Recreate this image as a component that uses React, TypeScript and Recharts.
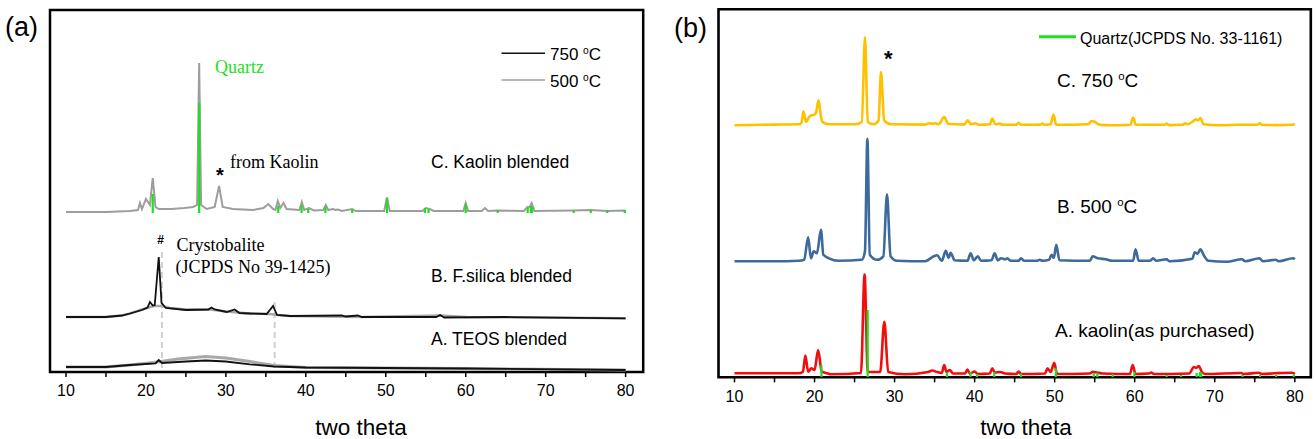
import React from 'react';
import { ComposedChart, Line, XAxis, YAxis, ReferenceArea } from 'recharts';

const SANS = '"Liberation Sans", Arial, Helvetica, sans-serif';
const SERIF = '"Liberation Serif", "Times New Roman", serif';
const GREEN = '#1de01d';

// ---------- shared axis ----------
const thetaTicks = [10, 15, 20, 25, 30, 35, 40, 45, 50, 55, 60, 65, 70, 75, 80];

// ---------- panel (a): [2theta, relative intensity] ----------
const aOffsetC = 160;
const aOffsetB = 55;
const aOffsetA = 5;

const aKaolinBlended: [number, number][] = [
  [10, 0], [15, 0], [18, 1], [19.0, 2], [19.25, 9], [19.5, 3], [20.0, 13], [20.5, 7], [20.85, 34], [21.2, 5],
  [21.6, 3], [23.2, 3], [24.8, 4], [25.9, 5], [26.4, 7], [26.66, 149], [26.9, 7], [27.6, 3], [28.6, 5],
  [29.15, 26], [29.6, 5], [30.9, 3], [33.4, 2], [34.7, 4], [35.3, 8], [35.9, 3], [36.2, 2], [36.5, 11],
  [36.8, 4], [37.2, 9], [37.6, 3], [39.2, 2], [39.5, 10], [39.8, 2], [40.4, 4], [41, 1.5], [42.2, 2],
  [42.5, 7], [42.8, 2], [43.4, 3], [43.7, 2], [44.0, 2.5], [44.5, 1], [45.8, 3], [46.2, 1], [49.8, 1],
  [50.15, 14.5], [50.5, 1], [54.6, 1], [55.0, 4], [55.5, 3], [56, 1], [59.7, 1], [60.0, 9], [60.3, 1],
  [62.0, 1], [62.4, 4], [62.8, 1], [64.0, 1.5], [67.3, 1], [67.7, 5], [68.0, 5], [68.25, 9], [68.6, 1],
  [73.5, 1.5], [75.6, 2], [77.7, 1], [79.9, 1.5], [80, -0.5],
];

const aQuartzSticks: [number, number][] = [
  [20.85, 18], [26.66, 109], [36.55, 6], [39.47, 7], [40.3, 3], [42.45, 5.5], [45.8, 3], [50.15, 14],
  [54.9, 4], [55.35, 3], [60.0, 7.5], [64.0, 2], [67.75, 4], [68.15, 6], [68.3, 6], [73.5, 2],
  [75.65, 2], [77.7, 1.5], [79.9, 2],
];

const aSilica750: [number, number][] = [
  [10, 0], [15, 0], [17, 1.5], [18, 3.5], [19.5, 7], [20.2, 9.5], [20.5, 15], [20.85, 11.5], [21.1, 12],
  [21.6, 60], [21.95, 14], [22.5, 9], [25, 7], [27.8, 7.5], [28.2, 9.5], [28.6, 7.5], [30.1, 5],
  [31.1, 7.5], [31.7, 4], [33, 3.5], [35.1, 3], [35.9, 11], [36.4, 2], [38, 1], [44.5, 1.5], [45, 0.5],
  [46.5, 1.5], [47, 0], [56.3, 0], [56.8, 2], [57.3, -0.5], [65, 0], [80, -1.3],
];

const aSilica500: [number, number][] = [
  [10, 0], [15, 0], [17, 1.5], [18, 3.5], [19.5, 7.5], [21, 11], [22, 11], [23, 9], [25, 7.5], [28, 7.5],
  [30, 5.5], [33, 3.5], [35.5, 3], [36.5, 2], [38, 1], [47, 0], [56.8, 1.5], [60, 0], [80, -1.3],
];

const aTeos750: [number, number][] = [
  [10, 0], [15, 0], [18, 2], [21.2, 3.7], [21.6, 7], [22.0, 4], [25, 5.5], [27.5, 6.5], [30, 5.5],
  [33, 2.7], [36, 0.5], [40, -0.5], [50, -1], [60, -1.5], [80, -3],
];

const aTeos500: [number, number][] = [
  [10, 0], [15, 0], [18, 2], [21, 4.5], [24, 8], [27.5, 10.5], [30, 9], [33, 5.5], [36, 1.5], [40, -0.5],
  [50, -1], [60, -1.5], [80, -3],
];

// crystobalite reference positions: [2theta, from, to]
const aCrystobaliteRefs: [number, number, number][] = [
  [22, 4, 124],
  [36.1, 4, 74],
];

// ---------- panel (b) ----------
const bOffsetC = 252;
const bOffsetB = 116;
const bOffsetA = 3;

const b750: [number, number][] = [
  [10, 0], [15, 0.7], [18, 1], [18.35, 2], [18.6, 14], [18.95, 3.3], [19.3, 8], [19.6, 10], [20.0, 10.7],
  [20.2, 13], [20.5, 25], [20.8, 9], [21.0, 3.3], [21.8, 1], [25.1, 1], [25.9, 3.3], [26.3, 88.3],
  [26.65, 3.3], [27.4, 1], [28.0, 5], [28.3, 53.3], [28.7, 5], [29.6, 1], [33.8, 0.7], [34.3, 2],
  [34.8, 1.5], [35.1, 2], [35.5, 1], [36.2, 8.3], [36.7, 1.5], [38.7, 0.7], [39.15, 5], [39.5, 1],
  [40.1, 2], [40.5, 0.5], [41.9, 1], [42.2, 6.7], [42.6, 1], [43.1, 1.7], [43.6, 0.5], [45.2, 0.5],
  [45.5, 2.5], [45.8, 0.5], [48.2, 0.7], [48.5, 1.7], [48.8, 0.5], [49.5, 1], [49.85, 10.7], [50.2, 0.5],
  [54.2, 1], [54.6, 4.3], [55.0, 3.5], [55.6, 0.5], [57.1, 0], [59.45, 0.5], [59.8, 7.7], [60.15, 0.5],
  [63.7, 0.5], [64.0, 1.7], [64.3, 0.2], [66.0, 0.5], [66.3, 2], [66.6, 1], [67.3, 4], [67.6, 6],
  [67.9, 5], [68.2, 7.3], [68.6, 1], [70.5, 0], [73.0, 0.5], [75.3, 0.5], [75.6, 2], [75.9, 0.5],
  [77.7, 0.2], [79.7, 0.5], [80.0, 1.5],
];

const b500: [number, number][] = [
  [10, 0], [15, 0], [18, 0.5], [18.7, 1.5], [19.2, 24], [19.55, 3], [19.9, 10], [20.3, 8], [20.8, 31.5],
  [21.1, 6.5], [21.8, 3], [23.0, 0.5], [25.9, 1.5], [26.3, 10], [26.6, 122.5], [26.9, 6.5], [27.8, 1.5],
  [28.6, 5], [29.05, 67], [29.5, 5], [30.3, 0.5], [33.8, 0], [34.9, 5], [35.3, 6], [35.9, 0.5],
  [36.4, 10.5], [36.75, 3.5], [37.0, 8.5], [37.5, 1], [39.1, 0.5], [39.5, 8], [39.9, 1], [40.4, 5],
  [40.8, 0.5], [42.1, 1], [42.5, 8], [42.9, 1], [43.3, 3], [43.8, 2], [44.1, 3], [44.5, 0.5], [45.5, 0.5],
  [45.8, 3], [46.2, 0.5], [47.8, 0.5], [48.1, 1.5], [48.5, 0.5], [49.3, 1.5], [49.6, 6.5], [49.9, 3.5],
  [50.2, 16.5], [50.6, 1], [54.4, 0.5], [54.75, 5], [55.4, 3], [56.4, 2], [57.2, 0.5], [59.8, 0.5],
  [60.1, 12], [60.5, 0.5], [61.9, 0.5], [62.3, 3], [62.7, 0.5], [64.0, 2], [64.3, 0], [67.2, 2.5],
  [67.5, 9], [67.85, 7.5], [68.2, 12], [68.7, 5], [69.2, 0.5], [71.5, -0.5], [73.4, 2], [73.8, 0],
  [75.6, 3], [76, 0], [77.6, 1.5], [78, 0], [79.8, 3], [80, 2],
];

const bKaolin: [number, number][] = [
  [10, 1], [18, 1], [18.55, 2.6], [18.85, 18.8], [19.2, 2.6], [19.6, 6], [20.0, 4.3], [20.45, 24.3],
  [20.9, 2.6], [21.6, 1], [22.2, 0], [25.8, 1.3], [26.25, 99.8], [26.65, 2.3], [28.2, 2.3], [28.72, 52.6],
  [29.2, 2.3], [31.3, 0], [34.2, 2.3], [34.7, 3.8], [35.3, 2.3], [35.9, 1.3], [36.2, 9.3], [36.5, 2.3],
  [36.9, 4.3], [37.3, 0.8], [38.8, 0.8], [39.1, 4.8], [39.4, 0.8], [40.0, 2.8], [40.4, 0.3], [41.9, 0.8],
  [42.2, 6], [42.5, 1.8], [43.2, 2.3], [43.8, 0.8], [45.2, 0.3], [45.5, 2.8], [45.8, 0.3], [48.8, 0.8],
  [49.1, 6], [49.5, 2.3], [49.95, 11.6], [50.3, 0.3], [54.4, 0.8], [54.75, 2.6], [55.3, 1.8], [56, 0.8],
  [59.4, 0.3], [59.75, 9.3], [60.1, 0.3], [61.8, 0.8], [62.05, 1.8], [62.4, 0.3], [66.8, 0.8], [67.4, 7.3],
  [67.7, 6.3], [68.0, 8.3], [68.4, 2.3], [68.8, 0.3], [73.3, 1.3], [73.6, 0.3], [75.5, 1.6], [75.9, 0.3],
  [77.5, 1], [79.7, 1.6], [80, 0.3],
];

const bQuartzSticks: [number, number][] = [
  [20.86, 12.3], [26.64, 67.3], [36.54, 4.8], [39.47, 5.3], [40.29, 3.3], [42.45, 5.3], [45.79, 3.8],
  [50.14, 9], [54.87, 4.3], [55.33, 4.3], [57.24, 3.3], [59.96, 5.3], [63.99, 2.3], [65.79, 2.3],
  [67.74, 4.3], [68.14, 5.3], [68.31, 5.3], [73.47, 2.3], [75.66, 2.3], [77.67, 2.3], [79.88, 3.3],
];

// ---------- helpers building library data ----------
type Pt = { x: number; y: number | null };
const curve = (pts: [number, number][], offset: number): Pt[] =>
  pts.map(([x, y]) => ({ x, y: y + offset }));
const sticks = (pts: [number, number][], offset: number, base: number): Pt[] =>
  pts.flatMap(([x, h]) => [
    { x, y: offset + base },
    { x, y: offset + h },
    { x, y: null },
  ]);
const verticals = (pts: [number, number, number][]): Pt[] =>
  pts.flatMap(([x, y0, y1]) => [
    { x, y: y0 },
    { x, y: y1 },
    { x, y: null },
  ]);

const tickFmt = (v: number) => (v % 10 === 0 ? String(v) : '');

const axisProps = {
  dataKey: 'x',
  type: 'number' as const,
  ticks: thetaTicks,
  interval: 0 as const,
  allowDataOverflow: true,
  axisLine: false,
  tickSize: 5,
  tickMargin: 8,
  height: 30,
  tickLine: { stroke: '#000', strokeWidth: 1.5 },
  tick: { fill: '#000', fontSize: 16, fontFamily: SANS },
  tickFormatter: tickFmt,
};

const A_XMAX = 82.2;
const A_YMAX = 362;
const B_XMAX = 82;
const B_YMAX = 368;

function PanelA() {
  return (
    <ComposedChart width={660} height={439} margin={{ top: 10, right: 16.8, bottom: 37, left: 50 }}>
      <XAxis {...axisProps} domain={[8, A_XMAX]} />
      <YAxis hide type="number" domain={[0, A_YMAX]} allowDataOverflow />
      <Line data={verticals(aCrystobaliteRefs)} dataKey="y" stroke="#cfcfcf" strokeWidth={2} strokeDasharray="6 4" dot={false} isAnimationActive={false} connectNulls={false} />
      <Line data={curve(aKaolinBlended, aOffsetC)} dataKey="y" stroke="#9d9d9d" strokeWidth={2} dot={false} isAnimationActive={false} />
      <Line data={sticks(aQuartzSticks, aOffsetC, -1)} dataKey="y" stroke={GREEN} strokeWidth={2.2} dot={false} isAnimationActive={false} connectNulls={false} />
      <Line data={curve(aSilica500, aOffsetB)} dataKey="y" stroke="#a8a8a8" strokeWidth={2.5} dot={false} isAnimationActive={false} />
      <Line data={curve(aSilica750, aOffsetB)} dataKey="y" stroke="#111" strokeWidth={1.8} dot={false} isAnimationActive={false} />
      <Line data={curve(aTeos500, aOffsetA)} dataKey="y" stroke="#a8a8a8" strokeWidth={3} dot={false} isAnimationActive={false} />
      <Line data={curve(aTeos750, aOffsetA)} dataKey="y" stroke="#111" strokeWidth={1.8} dot={false} isAnimationActive={false} />
      <ReferenceArea x1={8} x2={A_XMAX} y1={0} y2={A_YMAX} fill="none" stroke="#000" strokeWidth={2.5} ifOverflow="visible" />
    </ComposedChart>
  );
}

function PanelB() {
  return (
    <ComposedChart width={656} height={439} margin={{ top: 9.3, right: 5.2, bottom: 31.7, left: 58.5 }}>
      <XAxis {...axisProps} domain={[8, B_XMAX]} />
      <YAxis hide type="number" domain={[0, B_YMAX]} allowDataOverflow />
      <Line type="monotoneX" data={curve(b750, bOffsetC)} dataKey="y" stroke="#ffc000" strokeWidth={2.6} dot={false} isAnimationActive={false} />
      <Line type="monotoneX" data={curve(b500, bOffsetB)} dataKey="y" stroke="#3d6a9c" strokeWidth={2.6} dot={false} isAnimationActive={false} />
      <Line type="monotoneX" data={curve(bKaolin, bOffsetA)} dataKey="y" stroke="#f20d0d" strokeWidth={2.6} dot={false} isAnimationActive={false} />
      <Line data={sticks(bQuartzSticks, 0, 0)} dataKey="y" stroke={GREEN} strokeWidth={2.2} dot={false} isAnimationActive={false} connectNulls={false} />
      <ReferenceArea x1={8} x2={B_XMAX} y1={0} y2={B_YMAX} fill="none" stroke="#000" strokeWidth={2.6} ifOverflow="visible" />
    </ComposedChart>
  );
}

const Sup = ({ children }: { children: string }) => (
  <tspan fontSize="0.6em" dy="-0.62em">{children}</tspan>
);

export default function App() {
  return (
    <div style={{ position: 'absolute', left: 0, top: 0, width: 1316, height: 439, background: '#fff', overflow: 'hidden' }}>
      <div style={{ position: 'absolute', left: 0, top: 0 }}>
        <PanelA />
      </div>
      <div style={{ position: 'absolute', left: 660, top: 0 }}>
        <PanelB />
      </div>
      <svg width={1316} height={439} style={{ position: 'absolute', left: 0, top: 0, pointerEvents: 'none' }}>
        {/* panel a texts */}
        <text x={5} y={36} fontSize={27} fontFamily={SANS} fill="#000">(a)</text>
        <text x={215} y={72.5} fontSize={18} fontFamily={SERIF} fill={GREEN}>Quartz</text>
        <text x={220} y={182} fontSize={20} fontWeight="bold" fontFamily={SANS} textAnchor="middle" fill="#000">*</text>
        <text x={230} y={167.5} fontSize={18} fontFamily={SERIF} fill="#000">from Kaolin</text>
        <text x={160.5} y={244} fontSize={12} fontWeight="bold" fontFamily={SANS} textAnchor="middle" fill="#000">#</text>
        <text x={176.5} y={251} fontSize={18} fontFamily={SERIF} fill="#000">Crystobalite</text>
        <text x={175.5} y={273} fontSize={18} fontFamily={SERIF} fill="#000">(JCPDS No 39-1425)</text>
        <text x={431} y={168} fontSize={17.5} fontFamily={SANS} fill="#000">C. Kaolin blended</text>
        <text x={431} y={281.5} fontSize={17.5} fontFamily={SANS} fill="#000">B. F.silica blended</text>
        <text x={431} y={345} fontSize={17.5} fontFamily={SANS} fill="#000">A. TEOS blended</text>
        <line x1={501.5} x2={545} y1={53.3} y2={53.3} stroke="#111" strokeWidth={1.6} />
        <line x1={501.5} x2={545} y1={80} y2={80} stroke="#9d9d9d" strokeWidth={1.6} />
        <text x={550} y={60} fontSize={17} fontFamily={SANS} fill="#000">750 <Sup>o</Sup><tspan dy="0.372em">C</tspan></text>
        <text x={550} y={87} fontSize={17} fontFamily={SANS} fill="#000">500 <Sup>o</Sup><tspan dy="0.372em">C</tspan></text>
        <text x={361} y={435} fontSize={22.5} fontFamily={SANS} textAnchor="middle" fill="#000">two theta</text>

        {/* panel b texts */}
        <text x={674} y={36.5} fontSize={27} fontFamily={SANS} fill="#000">(b)</text>
        <line x1={1039} x2={1076} y1={36.7} y2={36.7} stroke={GREEN} strokeWidth={3} />
        <text x={1080} y={43.5} fontSize={16} fontFamily={SANS} fill="#000">Quartz(JCPDS No. 33-1161)</text>
        <text x={888.3} y={66} fontSize={22} fontWeight="bold" fontFamily={SANS} textAnchor="middle" fill="#000">*</text>
        <text x={1057} y={86.7} fontSize={19} fontFamily={SANS} fill="#000">C. 750 <Sup>o</Sup><tspan dy="0.372em">C</tspan></text>
        <text x={1057} y={212.7} fontSize={19} fontFamily={SANS} fill="#000">B. 500 <Sup>o</Sup><tspan dy="0.372em">C</tspan></text>
        <text x={1055} y={336.5} fontSize={19} fontFamily={SANS} fill="#000">A. kaolin(as purchased)</text>
        <text x={1026} y={435} fontSize={22.5} fontFamily={SANS} textAnchor="middle" fill="#000">two theta</text>
      </svg>
    </div>
  );
}
